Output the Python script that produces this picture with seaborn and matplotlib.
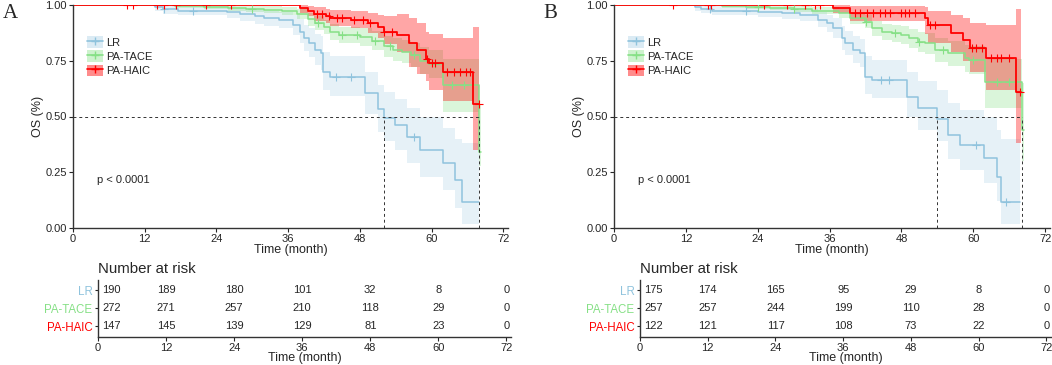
import numpy as np
import matplotlib
matplotlib.use("Agg")
import matplotlib.pyplot as plt
import seaborn as sns
from matplotlib.patches import Patch
from matplotlib.lines import Line2D
from matplotlib.legend_handler import HandlerTuple

groups = ["LR", "PA-TACE", "PA-HAIC"]
colors = {"LR": "#8fc3dd", "PA-TACE": "#86e086", "PA-HAIC": "#ff0000"}
band_alpha = {"LR": 0.22, "PA-TACE": 0.3, "PA-HAIC": 0.35}
risk_times = [0, 12, 24, 36, 48, 60, 72]

# ---- panel A ----
A_LR_t = [0, 13.7, 15.0, 17.5, 25.8, 28.0, 30.5, 32.0, 34.5, 36.9, 38.0, 38.6, 39.5, 40.5, 41.5, 41.9, 43.0, 48.9, 51.1, 52.0, 53.9, 55.9, 58.1, 62.0, 64.0, 65.1, 67.9]
A_LR_s = [1.0, 0.989, 0.98, 0.975, 0.967, 0.958, 0.95, 0.94, 0.933, 0.91, 0.88, 0.851, 0.828, 0.798, 0.783, 0.701, 0.676, 0.604, 0.532, 0.495, 0.462, 0.409, 0.35, 0.29, 0.215, 0.115, 0.115]
A_LR_lo = [1.0, 0.975, 0.96, 0.955, 0.94, 0.93, 0.915, 0.905, 0.895, 0.865, 0.83, 0.795, 0.765, 0.73, 0.71, 0.62, 0.59, 0.51, 0.43, 0.39, 0.35, 0.29, 0.23, 0.17, 0.09, 0.02, 0.02]
A_LR_hi = [1.0, 1.0, 1.0, 0.995, 0.99, 0.985, 0.98, 0.975, 0.97, 0.955, 0.935, 0.91, 0.895, 0.87, 0.86, 0.79, 0.77, 0.70, 0.64, 0.61, 0.58, 0.54, 0.50, 0.45, 0.40, 0.38, 0.38]
A_LR_cens = [15.3, 20.0, 44.0, 46.5, 57.0]

A_TACE_t = [0, 17, 22, 26, 29, 32, 35, 37.5, 39.3, 40.5, 42.0, 43.0, 44.5, 48.0, 50.0, 52.0, 53.5, 55.0, 56.5, 58.1, 59.5, 62.0, 68.0, 68.2]
A_TACE_s = [1.0, 0.996, 0.992, 0.988, 0.984, 0.978, 0.972, 0.96, 0.935, 0.92, 0.90, 0.88, 0.865, 0.855, 0.84, 0.815, 0.80, 0.79, 0.775, 0.75, 0.735, 0.64, 0.34, 0.34]
A_TACE_lo = [1.0, 0.988, 0.982, 0.975, 0.97, 0.962, 0.953, 0.938, 0.908, 0.89, 0.868, 0.845, 0.828, 0.815, 0.797, 0.768, 0.75, 0.738, 0.72, 0.69, 0.672, 0.52, 0.28, 0.28]
A_TACE_hi = [1.0, 1.0, 1.0, 1.0, 0.998, 0.995, 0.99, 0.982, 0.962, 0.95, 0.933, 0.915, 0.903, 0.895, 0.883, 0.862, 0.85, 0.842, 0.83, 0.81, 0.80, 0.76, 0.55, 0.55]
A_TACE_cens = [30.0, 41.0, 45.0, 47.5, 50.5, 53.0, 57.0, 60.5, 63.5, 65.5]

A_HAIC_t = [0, 38.0, 39.3, 40.3, 42.3, 43.0, 46.6, 49.4, 51.1, 52.0, 54.3, 56.2, 57.6, 59.0, 59.6, 62.0, 67.0, 68.0]
A_HAIC_s = [1.0, 0.985, 0.975, 0.96, 0.95, 0.94, 0.933, 0.918, 0.90, 0.88, 0.864, 0.828, 0.798, 0.76, 0.738, 0.70, 0.558, 0.558]
A_HAIC_lo = [1.0, 0.965, 0.95, 0.93, 0.918, 0.905, 0.895, 0.875, 0.85, 0.826, 0.79, 0.72, 0.69, 0.66, 0.62, 0.57, 0.35, 0.35]
A_HAIC_hi = [1.0, 1.0, 0.995, 0.99, 0.983, 0.977, 0.972, 0.962, 0.955, 0.95, 0.96, 0.94, 0.92, 0.88, 0.87, 0.85, 0.90, 0.90]
A_HAIC_cens = [9.0, 10.0, 14.1, 15.3, 17.3, 22.3, 26.5, 40.8, 41.6, 42.8, 44.2, 45.0, 47.0, 48.6, 49.7, 52.0, 53.4, 59.2, 60.1, 60.6, 62.6, 63.7, 64.8, 65.7, 66.5, 67.9]

A_risk_LR = [190, 189, 180, 101, 32, 8, 0]
A_risk_TACE = [272, 271, 257, 210, 118, 29, 0]
A_risk_HAIC = [147, 145, 139, 129, 81, 23, 0]

# ---- panel B ----
B_LR_t = [0, 13.5, 14.6, 16.3, 24.0, 28.0, 31.0, 34.1, 35.5, 36.6, 38.0, 38.6, 39.9, 41.1, 41.9, 43.0, 48.9, 50.8, 53.9, 55.8, 57.8, 61.7, 63.9, 64.7, 67.8]
B_LR_s = [1.0, 0.99, 0.98, 0.975, 0.97, 0.962, 0.955, 0.933, 0.918, 0.895, 0.85, 0.828, 0.798, 0.783, 0.679, 0.664, 0.589, 0.537, 0.49, 0.417, 0.372, 0.313, 0.23, 0.118, 0.118]
B_LR_lo = [1.0, 0.975, 0.962, 0.955, 0.948, 0.937, 0.927, 0.90, 0.88, 0.852, 0.80, 0.775, 0.74, 0.722, 0.60, 0.585, 0.50, 0.44, 0.39, 0.31, 0.26, 0.20, 0.12, 0.02, 0.02]
B_LR_hi = [1.0, 1.0, 0.998, 0.995, 0.992, 0.988, 0.983, 0.967, 0.955, 0.94, 0.905, 0.885, 0.86, 0.848, 0.77, 0.755, 0.70, 0.66, 0.62, 0.56, 0.53, 0.50, 0.44, 0.40, 0.40]
B_LR_cens = [16.0, 22.0, 44.5, 46.0, 60.5, 65.5]

B_TACE_t = [0, 18, 22, 26, 30, 33, 37.5, 39.4, 41.9, 43.0, 44.7, 46.4, 48.0, 49.2, 50.8, 51.9, 53.6, 55.8, 58.6, 59.2, 62.0, 68.2, 68.4]
B_TACE_s = [1.0, 0.996, 0.992, 0.988, 0.984, 0.975, 0.963, 0.94, 0.925, 0.895, 0.88, 0.873, 0.865, 0.85, 0.835, 0.828, 0.798, 0.783, 0.761, 0.753, 0.656, 0.439, 0.439]
B_TACE_lo = [1.0, 0.988, 0.982, 0.976, 0.97, 0.958, 0.942, 0.915, 0.897, 0.862, 0.845, 0.836, 0.826, 0.808, 0.79, 0.782, 0.745, 0.728, 0.70, 0.69, 0.54, 0.30, 0.30]
B_TACE_hi = [1.0, 1.0, 1.0, 1.0, 0.998, 0.992, 0.984, 0.966, 0.954, 0.928, 0.915, 0.91, 0.904, 0.892, 0.88, 0.874, 0.85, 0.838, 0.822, 0.816, 0.76, 0.65, 0.65]
B_TACE_cens = [24.0, 30.0, 42.0, 47.0, 51.0, 55.0, 60.0, 64.0, 66.0]

B_HAIC_t = [0, 36.6, 39.4, 51.9, 52.4, 56.3, 58.2, 59.4, 62.1, 67.1, 67.9]
B_HAIC_s = [1.0, 0.985, 0.963, 0.94, 0.91, 0.873, 0.843, 0.806, 0.761, 0.611, 0.611]
B_HAIC_lo = [1.0, 0.965, 0.93, 0.87, 0.83, 0.79, 0.75, 0.70, 0.62, 0.38, 0.38]
B_HAIC_hi = [1.0, 1.0, 0.995, 0.99, 0.975, 0.955, 0.94, 0.92, 0.91, 0.98, 0.98]
B_HAIC_cens = [9.9, 15.7, 16.2, 25.0, 28.9, 31.9, 33.5, 34.4, 40.2, 41.1, 42.2, 43.3, 44.4, 45.2, 46.1, 48.0, 48.6, 49.2, 50.3, 52.8, 53.6, 59.7, 60.5, 61.4, 63.0, 63.9, 64.7, 65.9, 67.8]

B_risk_LR = [175, 174, 165, 95, 29, 8, 0]
B_risk_TACE = [257, 257, 244, 199, 110, 28, 0]
B_risk_HAIC = [122, 121, 117, 108, 73, 22, 0]

panel_A = {
    "LR": (A_LR_t, A_LR_s, A_LR_lo, A_LR_hi, A_LR_cens),
    "PA-TACE": (A_TACE_t, A_TACE_s, A_TACE_lo, A_TACE_hi, A_TACE_cens),
    "PA-HAIC": (A_HAIC_t, A_HAIC_s, A_HAIC_lo, A_HAIC_hi, A_HAIC_cens),
}
risk_A = {"LR": A_risk_LR, "PA-TACE": A_risk_TACE, "PA-HAIC": A_risk_HAIC}
panel_B = {
    "LR": (B_LR_t, B_LR_s, B_LR_lo, B_LR_hi, B_LR_cens),
    "PA-TACE": (B_TACE_t, B_TACE_s, B_TACE_lo, B_TACE_hi, B_TACE_cens),
    "PA-HAIC": (B_HAIC_t, B_HAIC_s, B_HAIC_lo, B_HAIC_hi, B_HAIC_cens),
}
risk_B = {"LR": B_risk_LR, "PA-TACE": B_risk_TACE, "PA-HAIC": B_risk_HAIC}

sns.set_style("ticks")
plt.rcParams["font.family"] = ["Liberation Sans", "DejaVu Sans"]
plt.rcParams["axes.linewidth"] = 1.0
plt.rcParams["axes.edgecolor"] = "#333333"

fig = plt.figure(figsize=(10.52, 3.65), dpi=100)


def draw_panel(ax, axt, data, risk, letter, lx):
    medians = []
    for g in groups:
        t, s, lo, hi, cens = data[g]
        t = np.array(t); s = np.array(s)
        ax.fill_between(t, lo, hi, step="post", color=colors[g], alpha=band_alpha[g], lw=0)
        sns.lineplot(x=t, y=s, drawstyle="steps-post", color=colors[g], lw=1.3 if g == "PA-HAIC" else 1.1,
                     sort=False, estimator=None, ax=ax)
        idx = np.searchsorted(t, cens, side="right") - 1
        sns.scatterplot(x=cens, y=s[idx], marker="+", s=32, color=colors[g], linewidth=0.8, ax=ax, zorder=4)
        below = np.where(s <= 0.5)[0]
        if len(below):
            medians.append(t[below[0]])
    ax.plot([0, max(medians)], [0.5, 0.5], ls=(0, (3, 3)), color="#333333", lw=0.7)
    for m in medians:
        ax.plot([m, m], [0, 0.5], ls=(0, (3, 3)), color="#333333", lw=0.7)
    ax.text(4, 0.2, "p < 0.0001", fontsize=8)
    ax.set_xlim(0, 72.8)
    ax.set_ylim(0, 1.0)
    ax.set_xticks(risk_times)
    ax.set_yticks([0, 0.25, 0.5, 0.75, 1.0])
    ax.set_yticklabels(["0.00", "0.25", "0.50", "0.75", "1.00"])
    ax.tick_params(labelsize=8, length=3, pad=1.5)
    ax.set_xlabel("Time (month)", fontsize=9, labelpad=0)
    ax.set_ylabel("OS (%)", fontsize=9, labelpad=1)
    sns.despine(ax=ax)
    handles = [(Patch(facecolor=colors[g], alpha=band_alpha[g] + 0.1, lw=0),
                Line2D([], [], color=colors[g], lw=1.2, marker="+", ms=6)) for g in groups]
    ax.legend(handles, groups, handler_map={tuple: HandlerTuple(ndivide=1)}, loc="upper left",
              bbox_to_anchor=(0.015, 0.895), frameon=False, fontsize=8, handlelength=1.4,
              handleheight=1.2, labelspacing=0.25, borderpad=0.2, handletextpad=0.3)
    for i, g in enumerate(groups):
        yrow = 3 - i
        for j, (x, n) in enumerate(zip(risk_times, risk[g])):
            if j == 0:
                axt.text(0.7, yrow, str(n), ha="left", va="center", fontsize=8)
            else:
                axt.text(x, yrow, str(n), ha="center", va="center", fontsize=8)
    axt.set_xlim(0, 72.8)
    axt.set_ylim(0.39, 3.56)
    axt.set_xticks(risk_times)
    axt.set_yticks([3, 2, 1])
    axt.set_yticklabels(groups, fontsize=8.3)
    for lab, g in zip(axt.get_yticklabels(), groups):
        lab.set_color(colors[g])
    axt.tick_params(axis="x", labelsize=8, length=3, pad=1.5)
    axt.tick_params(axis="y", length=2.5, pad=1.5)
    axt.set_xlabel("Time (month)", fontsize=9, labelpad=-1)
    axt.set_title("Number at risk", loc="left", fontsize=10.8, pad=5)
    sns.despine(ax=axt)
    fig.text(lx, 1 - 4 / 365, letter, family=["Liberation Serif", "DejaVu Serif"], fontsize=15, va="top")


axA = fig.add_axes([73 / 1052, 1 - 228 / 365, 435 / 1052, 223 / 365])
axAt = fig.add_axes([98 / 1052, 1 - 337 / 365, 413 / 1052, 57 / 365])
axB = fig.add_axes([614 / 1052, 1 - 228 / 365, 436 / 1052, 223 / 365])
axBt = fig.add_axes([640 / 1052, 1 - 337 / 365, 411 / 1052, 57 / 365])

draw_panel(axA, axAt, panel_A, risk_A, "A", 3 / 1052)
draw_panel(axB, axBt, panel_B, risk_B, "B", 543 / 1052)

fig.savefig("out.png", dpi=100)
